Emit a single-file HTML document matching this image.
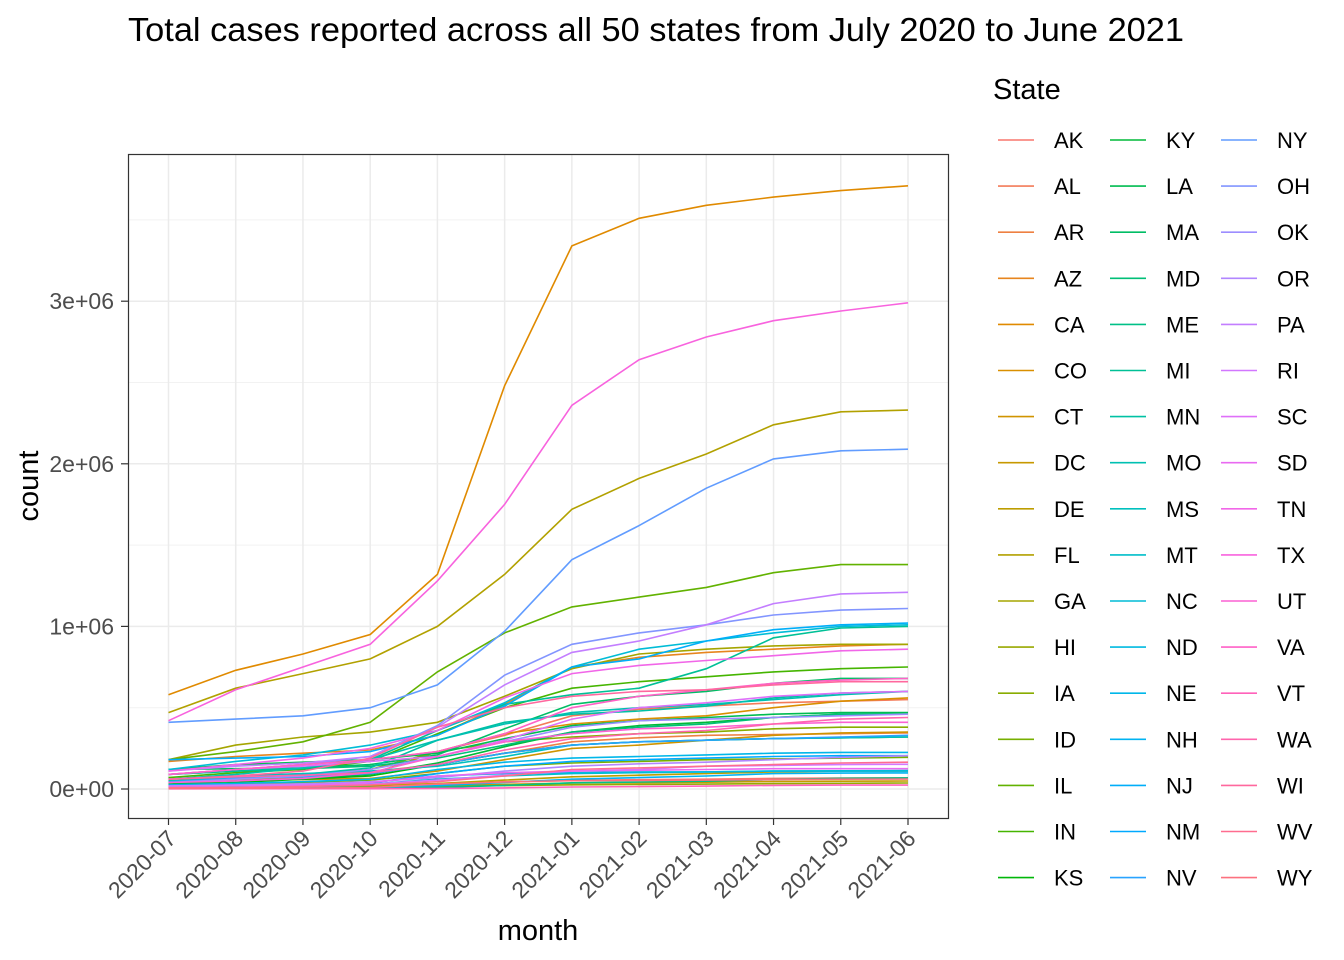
<!DOCTYPE html>
<html><head><meta charset="utf-8">
<style>
body{margin:0;background:#fff;}
svg{display:block;font-family:"Liberation Sans",Arial,sans-serif;}
</style></head>
<body>
<svg id="chart" width="1344" height="960">
<text x="128" y="41" font-size="33" textLength="1056" lengthAdjust="spacingAndGlyphs" fill="#000">Total cases reported across all 50 states from July 2020 to June 2021</text>
<rect x="128" y="154" width="820" height="664" fill="#fff"/>
<g id="grid"></g>
<g id="lines"></g>
<rect x="128.5" y="154.5" width="820" height="664" fill="none" stroke="#333" stroke-width="1.2"/>
<g id="axes"></g>
<text x="538" y="940" font-size="29" text-anchor="middle">month</text>
<text transform="translate(38,486) rotate(-90)" font-size="29" text-anchor="middle">count</text>
<text x="993" y="99" font-size="29">State</text>
<g id="legend"></g>
</svg>
<script>
const months=["2020-07","2020-08","2020-09","2020-10","2020-11","2020-12","2021-01","2021-02","2021-03","2021-04","2021-05","2021-06"];
const states=["AK","AL","AR","AZ","CA","CO","CT","DC","DE","FL","GA","HI","IA","ID","IL","IN","KS","KY","LA","MA","MD","ME","MI","MN","MO","MS","MT","NC","ND","NE","NH","NJ","NM","NV","NY","OH","OK","OR","PA","RI","SC","SD","TN","TX","UT","VA","VT","WA","WI","WV","WY"];
const yTicks=[0,1000000,2000000,3000000];
const yTickLabels=["0e+00","1e+06","2e+06","3e+06"];
// cumulative cases, thousands
const AK=[3,5,7,12,25,45,53,57,60,65,67,68];
const AL=[90,120,150,180,230,330,450,490,510,530,540,550];
const AR=[40,60,80,105,150,220,290,315,330,335,340,345];
const AZ=[170,200,220,240,330,520,750,810,840,860,880,890];
const CA=[580,730,830,950,1320,2480,3340,3510,3590,3640,3680,3710];
const CO=[50,60,70,90,230,340,400,430,450,500,540,560];
const CT=[50,55,58,65,110,180,250,270,300,330,345,350];
const DC=[12,14,15,17,20,28,36,39,42,46,48,49];
const DE=[15,17,19,23,34,55,75,85,95,105,110,110];
const FL=[470,620,710,800,1000,1320,1720,1910,2060,2240,2320,2330];
const GA=[180,270,320,350,410,570,740,830,860,880,890,890];
const HI=[2,8,12,14,17,21,26,28,30,33,35,37];
const IA=[45,65,90,120,230,290,320,340,350,370,380,380];
const ID=[20,30,40,55,95,140,160,170,180,185,190,195];
const IL=[180,230,290,410,720,960,1120,1180,1240,1330,1380,1380];
const IN=[70,100,120,170,340,500,620,660,690,720,740,750];
const KS=[25,40,60,80,150,220,270,290,300,310,315,320];
const KY=[30,50,65,90,160,260,350,390,410,440,460,460];
const LA=[120,150,165,180,220,310,390,420,440,460,470,470];
const MA=[120,125,130,150,210,370,520,570,600,650,680,680];
const MD=[90,110,125,140,190,270,350,380,400,440,460,460];
const ME=[4,4,5,6,10,22,38,43,48,58,66,68];
const MI=[90,110,130,180,360,520,580,620,740,930,990,1000];
const MN=[50,70,90,130,300,410,460,480,510,560,590,600];
const MO=[60,90,130,180,300,400,470,500,520,550,580,600];
const MS=[60,80,95,110,140,200,270,290,300,310,315,320];
const MT=[4,7,12,30,60,80,95,100,105,110,112,113];
const NC=[120,170,210,270,360,530,750,860,910,960,1000,1010];
const ND=[7,12,20,40,80,95,100,105,105,110,110,110];
const NE=[25,35,45,60,120,165,190,200,210,220,225,225];
const NH=[7,8,9,10,20,40,60,70,80,95,98,99];
const NJ=[180,190,200,230,330,510,750,800,910,980,1010,1020];
const NM=[20,25,28,35,95,140,170,180,190,200,205,205];
const NV=[45,65,75,95,150,220,270,290,300,310,320,330];
const NY=[410,430,450,500,640,970,1410,1620,1850,2030,2080,2090];
const OH=[90,120,150,200,390,700,890,960,1010,1070,1100,1110];
const OK=[40,60,80,120,200,290,380,420,430,440,450,460];
const OR=[18,25,32,45,70,110,140,155,165,180,195,205];
const PA=[110,140,160,200,380,640,840,910,1010,1140,1200,1210];
const RI=[18,22,25,30,55,85,110,120,140,145,150,152];
const SC=[90,120,140,170,200,300,430,500,530,570,590,600];
const SD=[8,12,20,40,80,100,110,115,120,125,125,125];
const TN=[110,150,190,250,360,560,710,760,790,820,850,860];
const TX=[420,610,750,890,1280,1750,2360,2640,2780,2880,2940,2990];
const UT=[40,50,65,100,200,290,340,370,380,400,410,410];
const VA=[90,120,150,180,230,340,500,570,610,650,670,680];
const VT=[1.4,1.6,1.8,2.1,3.5,7,12,15,18,22,24,24];
const WA=[60,75,85,100,150,240,310,340,360,400,430,440];
const WI=[60,80,110,190,380,500,570,600,610,640,660,660];
const WV=[8,10,15,25,45,80,120,130,140,150,160,165];
const WY=[3,4,6,9,30,43,51,53,55,58,60,61];
const seriesK=[AK,AL,AR,AZ,CA,CO,CT,DC,DE,FL,GA,HI,IA,ID,IL,IN,KS,KY,LA,MA,MD,ME,MI,MN,MO,MS,MT,NC,ND,NE,NH,NJ,NM,NV,NY,OH,OK,OR,PA,RI,SC,SD,TN,TX,UT,VA,VT,WA,WI,WV,WY];

const NS="http://www.w3.org/2000/svg";
const x0=168.5, xStep=(908-168.5)/11;
function xScale(i){return x0+i*xStep;}
function yScale(v){return 789-v*162.6/1e6;}
function mk(tag,attrs,parent){const e=document.createElementNS(NS,tag);for(const k in attrs)e.setAttribute(k,attrs[k]);parent.appendChild(e);return e;}
function hcl(h,c,l){
  const hr=h*Math.PI/180,u=c*Math.cos(hr),v=c*Math.sin(hr);
  const Xn=95.047,Yn=100,Zn=108.883;
  const Y=l>8?Yn*Math.pow((l+16)/116,3):Yn*l/903.3;
  const un=4*Xn/(Xn+15*Yn+3*Zn),vn=9*Yn/(Xn+15*Yn+3*Zn);
  const up=u/(13*l)+un,vp=v/(13*l)+vn;
  const X=9*Y*up/(4*vp),Z=-X/3-5*Y+3*Y/vp;
  const x=X/100,y=Y/100,z=Z/100;
  let r=3.2404542*x-1.5371385*y-0.4985314*z,g=-0.969266*x+1.8760108*y+0.041556*z,b=0.0556434*x-0.2040259*y+1.0572252*z;
  const f=t=>{t=t<=0.0031308?12.92*t:1.055*Math.pow(t,1/2.4)-0.055;return Math.round(Math.max(0,Math.min(1,t))*255);};
  return `rgb(${f(r)},${f(g)},${f(b)})`;
}
const n=states.length;
const colors=[];
for(let i=0;i<n;i++) colors[i]=hcl(15+i*360/n,100,65);

const grid=document.getElementById('grid');
for(let k=0;k<yTicks.length;k++){
  const ym=yScale(yTicks[k]+500000);
  if(ym>154){const m=mk('line',{x1:128,x2:948,y1:ym,y2:ym,stroke:'#f2f2f2','stroke-width':1},grid);}
  const y=yScale(yTicks[k]);
  const g=mk('line',{x1:128,x2:948,y1:y,y2:y,stroke:'#ebebeb','stroke-width':1.5},grid);
  
  
}
months.forEach((m,i)=>{
  const g=mk('line',{x1:xScale(i),x2:xScale(i),y1:154,y2:818,stroke:'#ebebeb','stroke-width':1.5},grid);
  
  
});
const lines=document.getElementById('lines');
states.forEach((s,si)=>{
  const pts=seriesK[si].map((v,i)=>xScale(i).toFixed(1)+','+yScale(v*1000).toFixed(1)).join(' ');
  const p=mk('polyline',{points:pts,fill:'none',stroke:colors[si],'stroke-width':1.6},lines);
  
  
});
const axes=document.getElementById('axes');
yTicks.forEach((t,k)=>{
  const y=yScale(t);
  mk('line',{x1:121,x2:128,y1:y,y2:y,stroke:'#333','stroke-width':1.2},axes);
  const tx=mk('text',{x:114,y:y+8,'font-size':23,'text-anchor':'end',fill:'#4d4d4d'},axes);
  tx.textContent=yTickLabels[k];
  
  
});
months.forEach((m,i)=>{
  const x=xScale(i);
  mk('line',{x1:x,x2:x,y1:818,y2:825,stroke:'#333','stroke-width':1.2},axes);
  const tx=mk('text',{transform:`translate(${x+9},${840}) rotate(-45)`,'font-size':23,'text-anchor':'end',fill:'#4d4d4d'},axes);
  tx.textContent=m;
  
  
});
const legend=document.getElementById('legend');
const colX=[998,1110,1221];
states.forEach((s,i)=>{
  const c=Math.floor(i/17),r=i%17;
  const y=140+r*46.1;
  const g=mk('g',{},legend);
  
  
  mk('line',{x1:colX[c],x2:colX[c]+36,y1:y,y2:y,stroke:colors[i],'stroke-width':1.6},g);
  const t=mk('text',{x:colX[c]+56,y:y+8,'font-size':22,fill:'#000'},g);
  t.textContent=s;
});
</script>
</body></html>
